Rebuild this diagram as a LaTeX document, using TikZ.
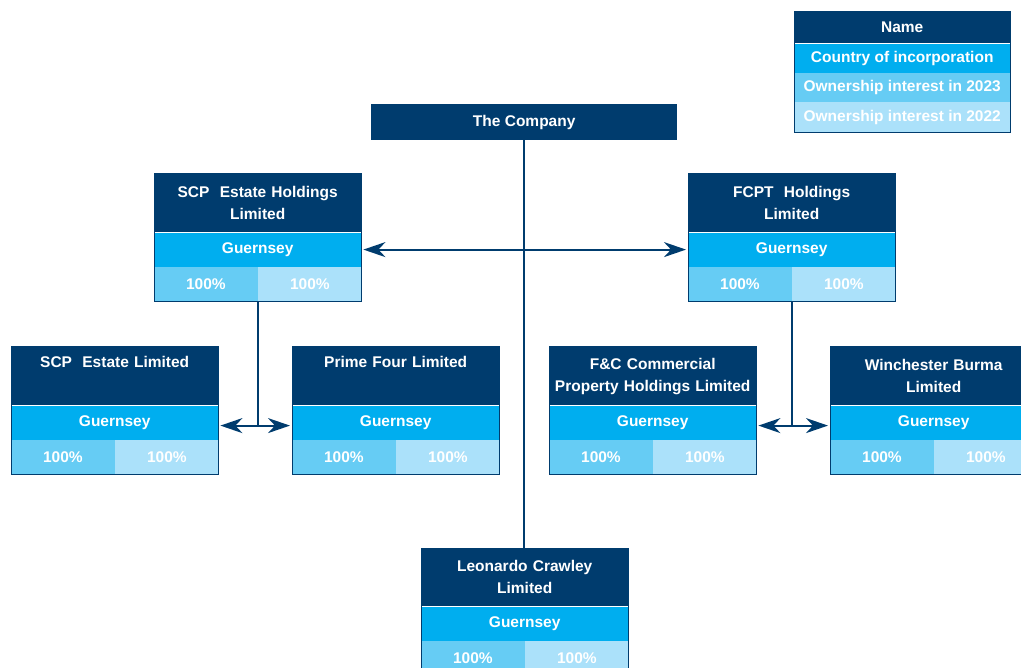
\documentclass[tikz,border=0pt]{standalone}
\usepackage{fontspec}
\setmainfont{Liberation Sans}
\usetikzlibrary{arrows.meta}

\definecolor{navy}{RGB}{0,60,110}
\definecolor{sky}{RGB}{0,174,239}
\definecolor{pale}{RGB}{102,204,244}
\definecolor{paler}{RGB}{171,225,250}

\tikzset{
  cell/.style={anchor=north west, inner sep=0pt, text=white,
    font=\fontsize{15.5}{22}\selectfont\bfseries, align=center},
  namecell/.style={cell, fill=navy, minimum width=207, minimum height=58, text width=207},
  ctrycell/.style={cell, fill=sky, minimum width=207, minimum height=34},
  sharecell/.style={cell, minimum width=103.5, minimum height=34},
  legendcell/.style={cell, minimum width=216, minimum height=30},
  link/.style={draw=navy, line width=2},
  twoway/.style={link, {Stealth[length=22,width=15,inset=7]}-{Stealth[length=22,width=15,inset=7]}, shorten <=2, shorten >=2},
}

% one subsidiary box: id, left, top, name
\newcommand\entity[4]{%
  \node[namecell] (#1-n) at (#2,#3) {#4};
  \node[ctrycell] (#1-c) at (#1-n.south west) {Guernsey};
  \node[sharecell, fill=pale] (#1-a) at (#1-c.south west) {100\%};
  \node[sharecell, fill=paler] (#1-b) at (#1-a.north east) {100\%};
  \draw[navy, line width=1] (#1-n.north west) rectangle (#1-b.south east);
}

\begin{document}
\begin{tikzpicture}[x=1pt, y=-1pt]
        \useasboundingbox (0,0) rectangle (1021,668);
        \clip (0,0) rectangle (1021,668);

        % key
        \node[legendcell, fill=navy, minimum height=31] (key-n) at (794,12) {Name};
        \node[legendcell, fill=sky, minimum height=29] (key-c) at (key-n.south west) {Country of incorporation};
        \node[legendcell, fill=pale, minimum height=29] (key-a) at (key-c.south west) {Ownership interest in 2023};
        \node[legendcell, fill=paler] (key-b) at (key-a.south west) {Ownership interest in 2022};
        \draw[navy, line width=1] (key-n.north west) rectangle (key-b.south east);

        \node[cell, fill=navy, minimum width=306, minimum height=36] (company) at (371,104) {The Company};

        \entity{scph}{154}{174}{SCP\ \ Estate Holdings\\Limited}
        \entity{fcpt}{688}{174}{FCPT\ \ Holdings\\Limited}
        \entity{scpe}{11}{347}{SCP\ \ Estate Limited\\\strut}
        \entity{prime}{292}{347}{Prime Four Limited\\\strut}
        \entity{fc}{549}{347}{F\&C Commercial\\Property Holdings Limited}
        \entity{winc}{830}{347}{Winchester Burma\\Limited}
        \entity{leo}{421}{548}{Leonardo Crawley\\Limited}

        \coordinate (leftjoin) at ([yshift=-3]scph-a.south east |- scpe-c.east);
        \coordinate (rightjoin) at ([yshift=-3]fcpt-a.south east |- fc-c.east);

        \draw[link] (company.south) -- (company.south |- leo-n.north);
        \draw[twoway] (scph-c.east) -- (fcpt-c.west);

        \draw[link] (scph-a.south east) -- (leftjoin);
        \draw[twoway] (scpe-c.east |- leftjoin) -- (prime-c.west |- leftjoin);

        \draw[link] (fcpt-a.south east) -- (rightjoin);
        \draw[twoway] (fc-c.east |- rightjoin) -- (winc-c.west |- rightjoin);
\end{tikzpicture}
\end{document}
